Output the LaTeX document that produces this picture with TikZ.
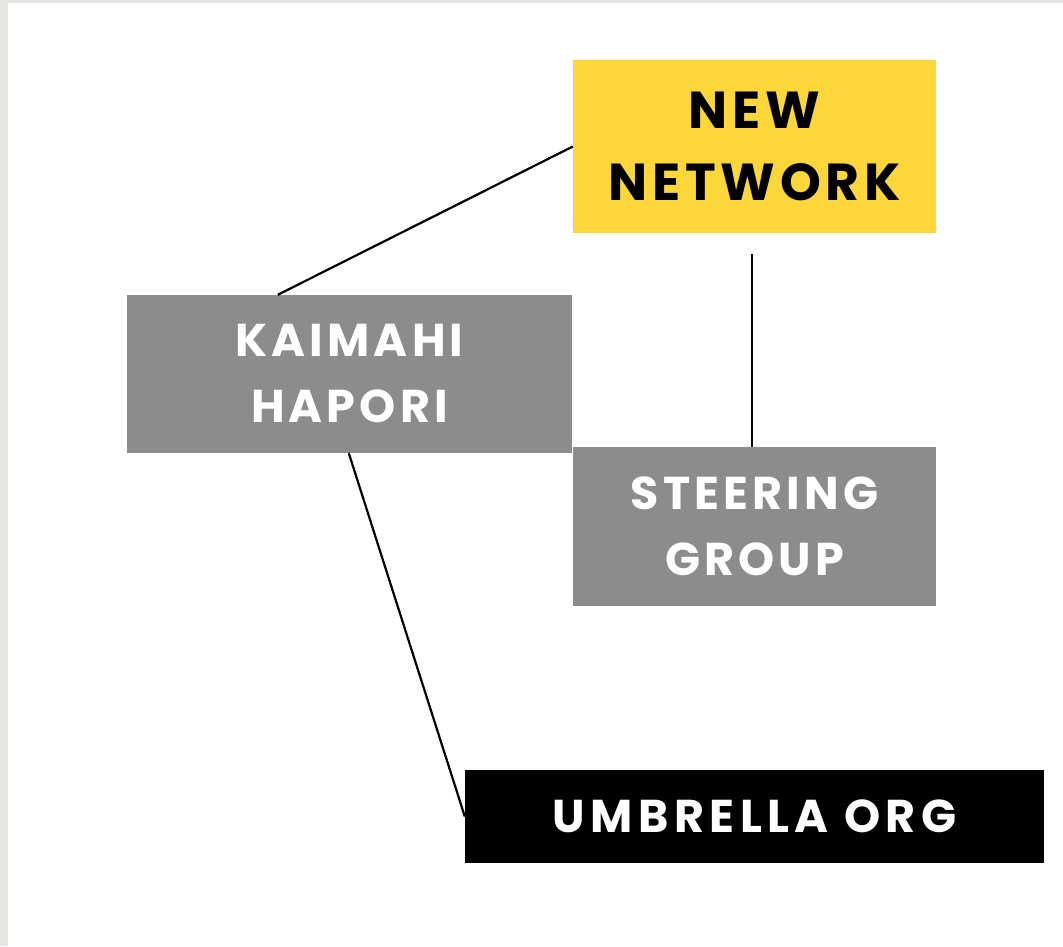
\documentclass[tikz,border=0pt]{standalone}
\usepackage{fontspec}
\setmainfont{Poppins}
\newfontfamily\labelfont[LetterSpace=9]{Poppins}
\newfontfamily\umfont[LetterSpace=12]{Poppins}
\definecolor{nnyellow}{HTML}{FDD63A}
\definecolor{boxgray}{HTML}{8C8C8C}
\definecolor{framegray}{HTML}{E8E6E3}
\begin{document}
\begin{tikzpicture}[x=1pt,y=-1pt,
  box/.style={rectangle, inner sep=0pt, align=center, font=\labelfont\bfseries\fontsize{46}{66}\selectfont},
  link/.style={draw=black, line width=2.2pt}]
\useasboundingbox (0,0) rectangle (1063,946);
\fill[framegray] (0,0) rectangle (1063,946);
\fill[white] (8,3) rectangle (1063,946);
\node[box, fill=nnyellow, text=black, minimum width=363pt, minimum height=173pt,
      font=\labelfont\bfseries\fontsize{52}{72}\selectfont] (nn) at (754.5,146.5) {NEW\\NETWORK};
\node[box, fill=boxgray, text=white, minimum width=445pt, minimum height=158pt] (kh) at (349.5,374) {KAIMAHI\\HAPORI};
\node[box, fill=boxgray, text=white, minimum width=363pt, minimum height=159pt] (sg) at (754.5,526.5) {STEERING\\GROUP};
\node[box, fill=black, text=white, minimum width=579pt, minimum height=93pt,
      font=\umfont\bfseries\fontsize{46}{66}\selectfont] (um) at (754.5,816.5) {UMBRELLA ORG};
\draw[link] ([xshift=151pt]kh.north west) -- (nn.west);
\draw[link] ([xshift=-2.5pt,yshift=-21pt]nn.south) -- ([xshift=-2.5pt]sg.north);
\draw[link] ([xshift=222pt]kh.south west) -- (um.west);
\end{tikzpicture}
\end{document}
